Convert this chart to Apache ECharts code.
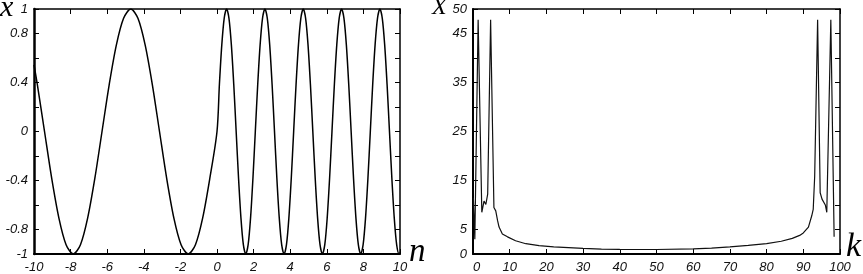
<!DOCTYPE html>
<html>
<head>
<meta charset="utf-8">
<script src="https://cdn.jsdelivr.net/npm/echarts@6/dist/echarts.min.js"></script>
<style>
  html, body { margin: 0; padding: 0; background: #fff; }
  #chart { width: 863px; height: 274px; }
</style>
</head>
<body>
<div id="chart"></div>
<script>
// left panel: signal x(n), slow part for n < 0
var nNeg = [-10, -9.817, -9.425, -9.032, -8.639, -8.247, -7.854, -7.461, -7.069, -6.676,
  -6.283, -5.890, -5.498, -5.105, -4.712, -4.320, -3.927, -3.534, -3.142, -2.749,
  -2.356, -1.963, -1.571, -1.178, -0.785, -0.393];
var xNeg = [0.544, 0.383, 0, -0.383, -0.707, -0.924, -1, -0.924, -0.707, -0.383,
  0, 0.383, 0.707, 0.924, 1, 0.924, 0.707, 0.383, 0, -0.383,
  -0.707, -0.924, -1, -0.924, -0.707, -0.383];

// fast part for n >= 0
var nPos = [0, 0.131, 0.262, 0.393, 0.524, 0.654, 0.785, 0.916, 1.047, 1.178,
  1.309, 1.440, 1.571, 1.702, 1.833, 1.963, 2.094, 2.225, 2.356, 2.487,
  2.618, 2.749, 2.880, 3.011, 3.142, 3.272, 3.403, 3.534, 3.665, 3.796,
  3.927, 4.058, 4.189, 4.320, 4.451, 4.581, 4.712, 4.843, 4.974, 5.105,
  5.236, 5.367, 5.498, 5.629, 5.760, 5.890, 6.021, 6.152, 6.283, 6.414,
  6.545, 6.676, 6.807, 6.938, 7.069, 7.199, 7.330, 7.461, 7.592, 7.723,
  7.854, 7.985, 8.116, 8.247, 8.378, 8.508, 8.639, 8.770, 8.901, 9.032,
  9.163, 9.294, 9.425, 9.556, 9.687, 9.817, 9.948, 10];
var xPos = [0, 0.383, 0.707, 0.924, 1, 0.924, 0.707, 0.383, 0, -0.383,
  -0.707, -0.924, -1, -0.924, -0.707, -0.383, 0, 0.383, 0.707, 0.924,
  1, 0.924, 0.707, 0.383, 0, -0.383, -0.707, -0.924, -1, -0.924,
  -0.707, -0.383, 0, 0.383, 0.707, 0.924, 1, 0.924, 0.707, 0.383,
  0, -0.383, -0.707, -0.924, -1, -0.924, -0.707, -0.383, 0, 0.383,
  0.707, 0.924, 1, 0.924, 0.707, 0.383, 0, -0.383, -0.707, -0.924,
  -1, -0.924, -0.707, -0.383, 0, 0.383, 0.707, 0.924, 1, 0.924,
  0.707, 0.383, 0, -0.383, -0.707, -0.924, -1, -0.988];

// right panel: spectrum |X(k)|
var kVals = [0.1, 0.5, 1.4, 2.4, 3.0, 3.5, 4.0, 4.8, 5.7, 6.2,
  6.7, 7.1, 8.0, 9.4, 11.6, 14.4, 18, 22, 26, 30,
  35, 40, 50, 60, 65, 70, 75, 80, 84, 87,
  89, 90, 91.4, 92.3, 92.7, 93.1, 93.9, 94.6, 95.1, 95.5,
  96.0, 96.4, 97.5, 98.4];
var specVals = [11.5, 3.0, 47.8, 8.5, 10.8, 10.1, 12.2, 47.8, 9.5, 8.8,
  6.8, 5.5, 4.1, 3.5, 2.7, 2.1, 1.7, 1.45, 1.3, 1.15,
  1.0, 0.95, 0.92, 1.05, 1.2, 1.45, 1.75, 2.1, 2.6, 3.2,
  3.8, 4.3, 5.5, 7.8, 9.1, 15.8, 47.8, 12.5, 11.2, 11.4,
  10.0, 8.5, 47.8, 3.5];

var xLabelsLeft = [1, 0.8, 0.4, 0, -0.4, -0.8, -1];
var yLabelsRight = [0, 5, 15, 25, 35, 45, 50];

var chart = echarts.init(document.getElementById('chart'), null, {renderer: 'canvas'});

var labelFont = {
  fontFamily: 'Arial, "Liberation Sans", sans-serif',
  fontStyle: 'italic',
  fontSize: 13,
  color: '#111'
};

function mainX(grid, min, max, interval, alignMin) {
  return {
    type: 'value', gridIndex: grid, position: 'bottom',
    min: min, max: max, interval: interval,
    axisLine: {onZero: false, lineStyle: {color: '#000', width: 2}},
    axisTick: {inside: true, length: 5, lineStyle: {color: '#000'}},
    axisLabel: Object.assign({margin: 7, alignMinLabel: alignMin}, labelFont),
    splitLine: {show: false}
  };
}
function sideAxis(grid, pos, min, max, interval) {
  return {
    type: 'value', gridIndex: grid, position: pos,
    min: min, max: max, interval: interval,
    axisLine: {onZero: false, lineStyle: {color: '#000', width: 1.5}},
    axisTick: {inside: true, length: 5, lineStyle: {color: '#000'}},
    axisLabel: {show: false},
    splitLine: {show: false}
  };
}

var leftData = [];
for (var i = 0; i < nNeg.length; i++) leftData.push([nNeg[i], xNeg[i]]);
for (var j = 0; j < nPos.length; j++) leftData.push([nPos[j], xPos[j]]);

var specData = kVals.map(function (k, i) { return [k, specVals[i]]; });

var option = {
  animation: false,
  backgroundColor: '#fff',
  grid: [
    {left: 34, right: 463, top: 9, bottom: 16},
    {left: 473, right: 23, top: 9, bottom: 15}
  ],
  xAxis: [
    mainX(0, -10, 10, 2, 'center'),
    sideAxis(0, 'top', -10, 10, 2),
    mainX(1, 0, 100, 10, 'left'),
    sideAxis(1, 'top', 0, 100, 10)
  ],
  yAxis: [
    {
      type: 'value', gridIndex: 0, position: 'left',
      min: -1, max: 1, interval: 0.2,
      axisLine: {onZero: false, lineStyle: {color: '#000', width: 2.5}},
      axisTick: {inside: true, length: 5, lineStyle: {color: '#000'}},
      axisLabel: Object.assign({
        margin: 6,
        formatter: function (v) {
          var r = Math.round(v * 10) / 10;
          return xLabelsLeft.indexOf(r) >= 0 ? String(r) : '';
        }
      }, labelFont),
      splitLine: {show: false}
    },
    sideAxis(0, 'right', -1, 1, 0.2),
    {
      type: 'value', gridIndex: 1, position: 'left',
      min: 0, max: 50, interval: 5,
      axisLine: {onZero: false, lineStyle: {color: '#000', width: 2}},
      axisTick: {inside: true, length: 5, lineStyle: {color: '#000'}},
      axisLabel: Object.assign({
        margin: 6,
        formatter: function (v) {
          return yLabelsRight.indexOf(Math.round(v)) >= 0 ? String(Math.round(v)) : '';
        }
      }, labelFont),
      splitLine: {show: false}
    },
    sideAxis(1, 'right', 0, 50, 5)
  ],
  series: [
    {
      type: 'line', xAxisIndex: 0, yAxisIndex: 0,
      data: leftData, smooth: 0.3, showSymbol: false,
      lineStyle: {color: '#000', width: 1.5}
    },
    {
      type: 'line', xAxisIndex: 2, yAxisIndex: 2,
      data: specData, smooth: false, showSymbol: false,
      lineStyle: {color: '#111', width: 1.2}
    }
  ],
  graphic: [
    {type: 'text', x: 0, y: -7, style: {text: 'x', font: 'italic 30px "Liberation Serif", serif', fill: '#000'}},
    {type: 'text', x: 409, y: 236, style: {text: 'n', font: 'italic 33px "Liberation Serif", serif', fill: '#000'}},
    {type: 'text', x: 432, y: -4, style: {text: 'X', font: 'italic 24px "Liberation Serif", serif', fill: '#000'}},
    {type: 'text', x: 846, y: 230, style: {text: 'k', font: 'italic 34px "Liberation Serif", serif', fill: '#000'}}
  ]
};

chart.setOption(option);
</script>
</body>
</html>
